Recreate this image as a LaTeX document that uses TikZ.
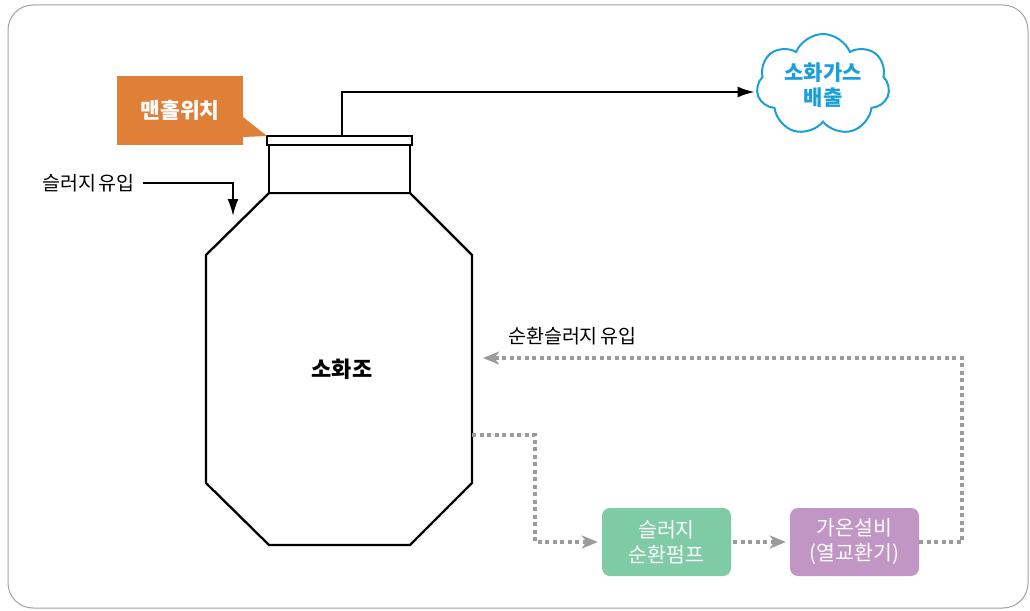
\documentclass[tikz,border=0pt]{standalone}
\usepackage{fontspec}
\setmainfont{Noto Sans CJK KR}
\usetikzlibrary{arrows.meta,shapes.symbols,calc}
\definecolor{orangeC}{HTML}{E07F37}
\definecolor{greenC}{HTML}{7FCBA6}
\definecolor{purpleC}{HTML}{C195C4}
\definecolor{cloudC}{HTML}{1B9FD8}
\definecolor{dotC}{HTML}{9B9B9B}
\definecolor{frameC}{HTML}{A0A0A0}
\tikzset{
  tankline/.style={line width=2.3pt, draw=black},
  blackarrow/.style={line width=2pt, -{Latex[length=17pt,width=11pt]}},
  dotline/.style={line width=3.2pt, draw=dotC, dash pattern=on 4pt off 3.5pt},
  dotarrow/.style={dotline, -{Stealth[length=16pt,width=13pt,inset=4.5pt,fill=dotC]}},
  procbox/.style={rounded corners=8pt, minimum width=129pt, minimum height=68pt, inner sep=0pt,
     text=white, align=center, font=\fontsize{20.5}{25}\selectfont},
  lbl/.style={font=\fontsize{19.5}{23}\selectfont, inner sep=2pt}
}
\begin{document}
\begin{tikzpicture}[x=1pt,y=-1pt]
\useasboundingbox (0,0) rectangle (1030,610);
\draw[frameC, line width=1pt, rounded corners=25pt] (8,5) rectangle (1028,608);

% tank
\draw[tankline] (269,193) -- (410,193) -- (472,255) -- (472,483) -- (410,545) -- (269,545) -- (206,483) -- (206,255) -- cycle;
\node[tankline, draw, fill=white, minimum width=141pt, minimum height=48pt, inner sep=0pt, outer sep=0pt, anchor=north west] (neck) at (269,145) {};
\node[tankline, draw, fill=white, minimum width=145pt, minimum height=9pt, inner sep=0pt, outer sep=0pt, anchor=north west] (lid) at (267,136) {};
\node[font=\bfseries\fontsize{22}{26}\selectfont] (tanklabel) at (342,369) {소화조};

% manhole callout
\node[fill=orangeC, minimum width=126pt, minimum height=69pt, inner sep=0pt, outer sep=0pt, anchor=north west,
  text=white, font=\bfseries\fontsize{21.5}{26}\selectfont] (manhole) at (117,76) {맨홀위치};
\fill[orangeC] ($(manhole.north east)+(0,41)$) -- (lid.north west) -- ($(manhole.south east)+(0,-8)$) -- cycle;

% gas out
\node[cloud, draw=cloudC, line width=2pt, cloud puffs=7, cloud puff arc=135, aspect=1.4,
  minimum width=133pt, minimum height=92pt, inner sep=0pt, align=center, text=cloudC,
  font=\bfseries\fontsize{21}{25}\selectfont] (cloud) at (823,85) {소화가스\\배출};
\coordinate (pipeStart) at (342,136);
\coordinate (pipeTop) at (342,92);
\draw[blackarrow, shorten >=2pt] (pipeStart) -- (pipeTop) -- (cloud.west |- pipeTop);

% slurry inlet
\node[lbl, anchor=west] (inlet) at (40,183) {슬러지\hspace{0.15em}유입};
\coordinate (inletEnd) at (233,216);
\draw[blackarrow] (inlet.east) ++(6,0) -| (inletEnd);

% circulation
\node[procbox, fill=greenC] (pump) at (666.5,542) {슬러지\\순환펌프};
\node[procbox, fill=purpleC] (heater) at (854.5,542) {가온설비\\(열교환기)};
\coordinate (tankOut) at (472,435);
\coordinate (tankIn) at (483,358);
\coordinate (rightTop) at (962,358);
\draw[dotarrow, shorten >=4pt] (tankOut) -- (535,435) |- (pump.west);
\draw[dotarrow, shorten <=2pt, shorten >=4pt] (pump.east) -- (heater.west);
\draw[dotarrow] (heater.east) -| (rightTop) -- (tankIn);
\node[lbl, anchor=west] (circLabel) at (506,336) {순환슬러지\hspace{0.15em}유입};
\end{tikzpicture}
\end{document}
